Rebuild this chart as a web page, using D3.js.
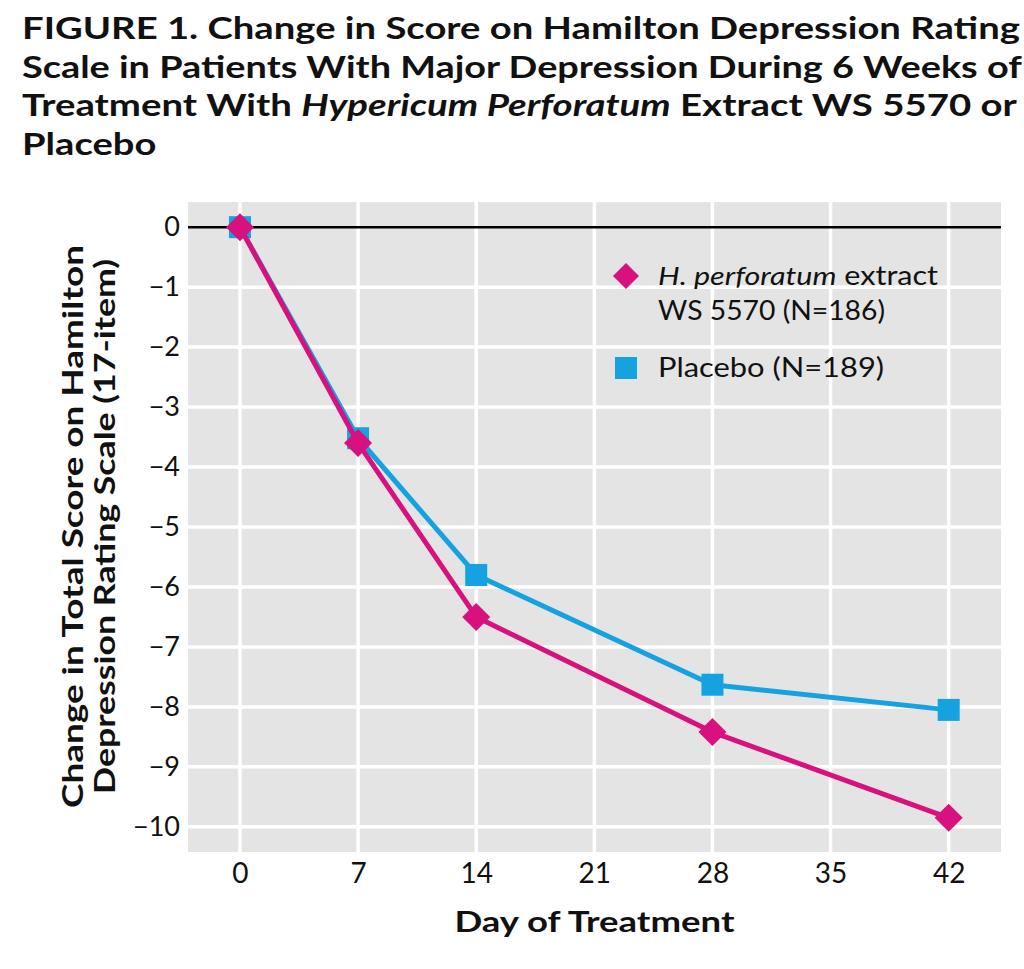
<!DOCTYPE html>
<html>
<head>
<meta charset="utf-8">
<script src="https://cdn.jsdelivr.net/npm/d3@7"></script>
<style>
  html, body { margin: 0; padding: 0; background: #fff; }
  svg { display: block; }
  text { font-family: Lato, "Open Sans", sans-serif; fill: #111; }
</style>
</head>
<body>
<svg id="chart" width="1024" height="969"></svg>
<script>
// ---- data ----
const days = [0, 7, 14, 28, 42];
const hypericum = [0, -3.6, -6.5, -8.42, -9.85];
const placebo = [0, -3.52, -5.8, -7.63, -8.05];
const xTicks = [0, 7, 14, 21, 28, 35, 42];
const yTicks = [0, -1, -2, -3, -4, -5, -6, -7, -8, -9, -10];
const seriesNames = ["H. perforatum extract WS 5570 (N=186)", "Placebo (N=189)"];
const titleLines = [
  [["FIGURE 1. Change in Score on Hamilton Depression Rating", false]],
  [["Scale in Patients With Major Depression During 6 Weeks of", false]],
  [["Treatment With ", false], ["Hypericum Perforatum", true], [" Extract WS 5570 or", false]],
  [["Placebo", false]]
];
const xTitle = "Day of Treatment";
const yTitleLines = ["Change in Total Score on Hamilton", "Depression Rating Scale (17-item)"];

const PINK = "#d8117e", BLUE = "#14a2e0", BG = "#e4e4e4";

const svg = d3.select("#chart");
const L = 188, R = 1001, T = 202, B = 852;

const x = d3.scaleLinear().domain([-3.08, 45.1]).range([L, R]);
const y = d3.scaleLinear().domain([0.42, -10.42]).range([T, B]);

// ---- title ----
const titleTargets = [998, 1000, 995, null];
let sxs = [];
const tg = svg.append("g");
titleLines.forEach((segs, i) => {
  const g = tg.append("g").attr("transform", `translate(22,${39 + i * 38.7})`);
  const t = g.append("text").attr("x", 0).attr("y", 0)
    .style("font-size", "30px").style("font-weight", "bold");
  segs.forEach(([s, it]) => t.append("tspan").text(s).style("font-style", it ? "italic" : "normal"));
  const w = t.node().getComputedTextLength();
  let sx = titleTargets[i] ? titleTargets[i] / w : null;
  if (sx) sxs.push(sx);
  g.node().__sx = sx;
});
const avgSx = d3.mean(sxs);
tg.selectAll(":scope > g").each(function () {
  const sx = this.__sx || avgSx;
  const tr = d3.select(this).attr("transform");
  d3.select(this).attr("transform", tr + ` scale(${sx},1)`);
});

// ---- plot background ----
svg.append("rect").attr("x", L).attr("y", T).attr("width", R - L).attr("height", B - T).attr("fill", BG);

// gridlines
svg.append("g").selectAll("line.v").data(xTicks).join("line")
  .attr("x1", d => x(d)).attr("x2", d => x(d)).attr("y1", T).attr("y2", B)
  .attr("stroke", "#fff").attr("stroke-width", 3.5);
svg.append("g").selectAll("line.h").data(yTicks.filter(d => d !== 0)).join("line")
  .attr("x1", L).attr("x2", R).attr("y1", d => y(d)).attr("y2", d => y(d))
  .attr("stroke", "#fff").attr("stroke-width", 3.5);
// zero line
svg.append("line").attr("x1", L).attr("x2", R).attr("y1", y(0)).attr("y2", y(0))
  .attr("stroke", "#000").attr("stroke-width", 2.5);

// ---- axes ----
const xAxis = svg.append("g").attr("transform", `translate(0,${B})`)
  .call(d3.axisBottom(x).tickValues(xTicks).tickSize(0).tickPadding(11));
xAxis.select(".domain").remove();
xAxis.selectAll("text").style("font-size", "28px").attr("fill", "#111").style("font-family", "Lato, sans-serif");

const yAxis = svg.append("g").attr("transform", `translate(${L},0)`)
  .call(d3.axisLeft(y).tickValues(yTicks).tickSize(0).tickPadding(8));
yAxis.select(".domain").remove();
yAxis.selectAll("text").style("font-size", "27px").attr("fill", "#111").style("font-family", "Lato, sans-serif");

// axis titles
svg.append("text").attr("x", (L + R) / 2).attr("y", 932).attr("text-anchor", "middle")
  .attr("textLength", 280).attr("lengthAdjust", "spacingAndGlyphs")
  .style("font-size", "28px").style("font-weight", "bold").text(xTitle);
const yc = (T + B) / 2 - 0.5;
const yTitleX = [83, 115], yTitleLen = [563, 535];
yTitleX.forEach((bx, i) => {
  svg.append("text").attr("transform", `translate(${bx},${yc}) rotate(-90)`)
    .attr("text-anchor", "middle")
    .attr("textLength", yTitleLen[i]).attr("lengthAdjust", "spacingAndGlyphs")
    .style("font-size", "29px").style("font-weight", "bold").text(yTitleLines[i]);
});

// ---- series ----
const line = d3.line().x(d => x(d[0])).y(d => y(d[1]));
const plcData = days.map((d, i) => [d, placebo[i]]);
const hypData = days.map((d, i) => [d, hypericum[i]]);

svg.append("path").datum(plcData).attr("d", line).attr("fill", "none")
  .attr("stroke", BLUE).attr("stroke-width", 5).attr("stroke-linejoin", "round");
svg.append("g").selectAll("rect").data(plcData).join("rect")
  .attr("x", d => x(d[0]) - 11).attr("y", d => y(d[1]) - 11)
  .attr("width", 22).attr("height", 22).attr("fill", BLUE);

svg.append("path").datum(hypData).attr("d", line).attr("fill", "none")
  .attr("stroke", PINK).attr("stroke-width", 5).attr("stroke-linejoin", "round");
const diamond = "M0,-14L14,0L0,14L-14,0Z";
svg.append("g").selectAll("path").data(hypData).join("path")
  .attr("d", diamond).attr("transform", d => `translate(${x(d[0])},${y(d[1])})`)
  .attr("fill", PINK);

// ---- legend ----
const lg = svg.append("g");
lg.append("path").attr("d", "M0,-13L13,0L0,13L-13,0Z").attr("transform", "translate(626,276)").attr("fill", PINK);
const l1 = lg.append("text").attr("x", 658).attr("y", 285).style("font-size", "26px")
  .attr("textLength", 280).attr("lengthAdjust", "spacingAndGlyphs");
l1.append("tspan").text("H. perforatum").style("font-style", "italic");
l1.append("tspan").text(" extract");
lg.append("text").attr("x", 658).attr("y", 320).style("font-size", "26px")
  .attr("textLength", 227).attr("lengthAdjust", "spacingAndGlyphs").text("WS 5570 (N=186)");
lg.append("rect").attr("x", 615).attr("y", 357).attr("width", 22).attr("height", 22).attr("fill", BLUE);
lg.append("text").attr("x", 658).attr("y", 377).style("font-size", "26px")
  .attr("textLength", 226).attr("lengthAdjust", "spacingAndGlyphs").text(seriesNames[1]);
</script>
</body>
</html>
